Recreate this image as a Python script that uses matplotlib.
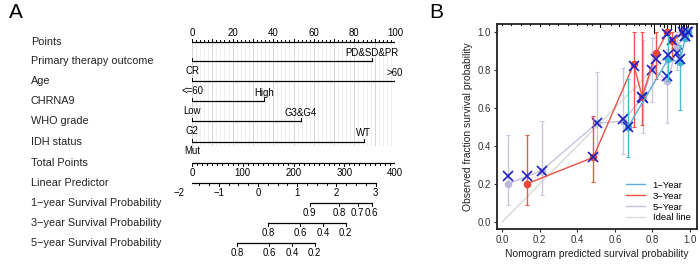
import numpy as np
import matplotlib
matplotlib.use("Agg")
import matplotlib.pyplot as plt
from matplotlib.lines import Line2D

plt.rcParams['font.family'] = ['Liberation Sans', 'DejaVu Sans']

# ---------------- Panel A data (nomogram) ----------------
row_labels = ["Points", "Primary therapy outcome", "Age", "CHRNA9", "WHO grade",
              "IDH status", "Total Points", "Linear Predictor",
              "1\u2212year Survival Probability", "3\u2212year Survival Probability",
              "5\u2212year Survival Probability"]
var_low_labels = ["CR", "<=60", "Low", "G2", "Mut"]
var_high_labels = ["PD&SD&PR", ">60", "High", "G3&G4", "WT"]
var_high_points = [88.5, 100, 35.6, 53.7, 84.7]
points_ticks = [0, 20, 40, 60, 80, 100]
total_ticks = [0, 100, 200, 300, 400]
lp_ticks = [-2, -1, 0, 1, 2, 3]
lp_at_total0 = -1.68
lp_at_total400 = 3.49
surv_times = ["1", "3", "5"]
surv_baseline = [0.9722, 0.8412, 0.6832]
surv_ticks = [[0.9, 0.8, 0.7, 0.6], [0.8, 0.6, 0.4, 0.2], [0.8, 0.6, 0.4, 0.2]]

# ---------------- Panel B data (calibration) ----------------
x1 = [0.67, 0.885, 0.945, 0.975, 0.99]
y1 = [0.50, 0.86, 0.84, 0.97, 1.0]
lo1 = [0.34, 0.74, 0.59, np.nan, np.nan]
hi1 = [0.75, 0.98, 0.93, np.nan, np.nan]
bc1 = [0.50, 0.88, 0.86, 0.98, 1.0]

x3 = [0.13, 0.485, 0.70, 0.745, 0.82, 0.88, 0.905, 0.96, 0.985]
y3 = [0.20, 0.34, 0.83, 0.66, 0.89, 1.0, 0.95, 1.0, 1.0]
lo3 = [0.09, 0.21, 0.50, 0.51, 0.75, np.nan, 0.85, np.nan, np.nan]
hi3 = [0.46, 0.56, 1.0, 1.0, 1.0, np.nan, 1.0, np.nan, np.nan]
bc3 = [0.24, 0.34, 0.82, 0.66, 0.86, 0.99, 0.96, 1.0, 1.0]

x5 = [0.03, 0.21, 0.505, 0.645, 0.75, 0.80, 0.88, 0.93, 0.975]
y5 = [0.20, 0.27, 0.52, 0.53, 0.66, 0.81, 0.74, 0.92, 0.99]
lo5 = [0.09, 0.14, 0.36, 0.36, 0.47, 0.63, 0.52, 0.80, np.nan]
hi5 = [0.46, 0.53, 0.79, 0.81, 0.96, 0.97, 0.91, 1.0, np.nan]
bc5 = [0.24, 0.27, 0.52, 0.54, 0.65, 0.80, 0.77, 0.89, 0.98]

rug_x = [0.0, 0.05, 0.10, 0.15, 0.20, 0.25, 0.30, 0.35, 0.40, 0.45, 0.48, 0.52, 0.58,
         0.62, 0.66, 0.70, 0.73, 0.76, 0.79, 0.81, 0.84, 0.86, 0.88, 0.90, 0.92,
         0.94, 0.95, 0.96, 0.97, 0.98, 0.99]
rug_h = [1, 1, 1, 1, 2, 1, 1, 1, 1, 1, 1, 3, 1, 2, 1, 1, 1, 1, 2, 8, 2, 3, 5, 4, 6,
         5, 7, 6, 5, 4, 3]

series_names = ["1\u2212Year", "3\u2212Year", "5\u2212Year", "Ideal line"]

# ---------------- Figure ----------------
W, H = 700, 267
fig = plt.figure(figsize=(W / 100, H / 100), dpi=100)

# Panel A axes: x in nomogram points (0..100), y in pixel rows
axA = fig.add_axes([192 / W, 0, 203 / W, 1])
axA.set_xlim(0, 100)
axA.set_ylim(H, 0)
axA.axis('off')

row_y = [42, 61, 81, 101, 121, 142, 163, 183, 203, 223, 243]
lab_fs = 7.8
tick_fs = 6.9
lw = 0.9

fig.text(9 / W, 1 - 13 / H, "A", fontsize=15, ha='left', va='center')
fig.text(429 / W, 1 - 13 / H, "B", fontsize=15, ha='left', va='center')

for lab, yy in zip(row_labels, row_y):
    fig.text(31 / W, 1 - yy / H, lab, fontsize=lab_fs, ha='left', va='center', color='#222222')

# grid lines
for g in np.arange(0, 100.1, 2):
    col = '#cfcfcf' if g % 10 == 0 else '#ebebeb'
    axA.plot([g, g], [row_y[0], 145], color=col, lw=0.6, zorder=0)

# Points axis
axA.plot([0, 100], [row_y[0], row_y[0]], color='k', lw=lw)
for t in np.arange(0, 100.1, 2):
    ln = 3 if t % 10 == 0 else 2
    axA.plot([t, t], [row_y[0], row_y[0] - ln], color='k', lw=0.7)
for t in points_ticks:
    axA.text(t, row_y[0] - 9, str(t), fontsize=tick_fs, ha='center', va='center')

# variables
for i, (lo_l, hi_l, hp) in enumerate(zip(var_low_labels, var_high_labels, var_high_points)):
    yy = row_y[i + 1]
    axA.plot([0, hp], [yy, yy], color='k', lw=lw)
    for xx in (0, hp):
        axA.plot([xx, xx], [yy, yy - 3], color='k', lw=0.7)
    axA.text(hp, yy - 8.5, hi_l, fontsize=tick_fs, ha='center', va='center')
    axA.text(0, yy + 9.5, lo_l, fontsize=tick_fs, ha='center', va='center')

# Total points axis (0..400 -> 0..100)
yy = row_y[6]
axA.plot([0, 100], [yy, yy], color='k', lw=lw)
for t in np.arange(0, 401, 10):
    ln = 3 if t % 100 == 0 else 2
    axA.plot([t / 4, t / 4], [yy, yy + ln], color='k', lw=0.7)
for t in total_ticks:
    axA.text(t / 4, yy + 9.5, str(t), fontsize=tick_fs, ha='center', va='center')

def lp2x(lp):
    tp = (lp - lp_at_total0) / (lp_at_total400 - lp_at_total0) * 400
    return tp / 4

# Linear predictor
yy = row_y[7]
axA.plot([lp2x(lp_ticks[0]), lp2x(lp_ticks[-1])], [yy, yy], color='k', lw=lw)
for t in np.arange(lp_ticks[0], lp_ticks[-1] + 0.01, 0.25):
    ln = 3 if abs(t - round(t)) < 1e-6 else 2
    axA.plot([lp2x(t), lp2x(t)], [yy, yy + ln], color='k', lw=0.7)
for t in lp_ticks:
    lab = str(t).replace('-', '\u2212')
    axA.text(lp2x(t), yy + 9.5, lab, fontsize=tick_fs, ha='center', va='center')

# Survival probability axes
for k, (s0, ticks) in enumerate(zip(surv_baseline, surv_ticks)):
    yy = row_y[8 + k]
    xs = [lp2x(np.log(np.log(p) / np.log(s0))) for p in ticks]
    axA.plot([xs[0], xs[-1]], [yy, yy], color='k', lw=lw)
    for xx, p in zip(xs, ticks):
        axA.plot([xx, xx], [yy, yy + 3], color='k', lw=0.7)
        axA.text(xx, yy + 9.5, f"{p:.1f}", fontsize=tick_fs, ha='center', va='center')

# ---------------- Panel B ----------------
axB = fig.add_axes([497 / W, 38 / H, 200 / W, 205 / H])
axB.set_xlim(-0.027, 1.037)
axB.set_ylim(-0.037, 1.042)
for s in axB.spines.values():
    s.set_linewidth(1.3)
    s.set_color('#222222')
ticks = [0, 0.2, 0.4, 0.6, 0.8, 1.0]
axB.set_xticks(ticks)
axB.set_yticks(ticks)
axB.set_xticklabels([f"{t:.1f}" for t in ticks], fontsize=tick_fs, color='#333333')
axB.set_yticklabels([f"{t:.1f}" for t in ticks], fontsize=tick_fs, color='#333333')
axB.tick_params(length=2.5, width=0.8, pad=2, color='#333333')
axB.set_xlabel("Nomogram predicted survival probability", fontsize=7.4, labelpad=3, color='#222222')
axB.set_ylabel("Observed fraction survival probability", fontsize=7.4, labelpad=3, color='#222222')

c1_line, c1_pt, c1_err = '#5AAED8', '#3DB5CC', '#45BCC8'
c3_line, c3_pt, c3_err = '#E5533F', '#E8473A', '#E8574A'
c5_line, c5_pt, c5_err = '#C8C1E2', '#BDB8DA', '#CBC6DF'
c_ideal = '#DCDCDC'
c_x = '#2020C8'

axB.plot([0, 1], [0, 1], color=c_ideal, lw=1.1, zorder=1)

tr = axB.get_xaxis_transform()
for rx, rh in zip(rug_x, rug_h):
    axB.plot([rx, rx], [1, 1 - rh * 1.1 / 205], color='k', lw=0.8, transform=tr, clip_on=False)

def draw_series(x, y, lo, hi, bc, cl, cp, ce, z):
    x = np.array(x); y = np.array(y); lo = np.array(lo); hi = np.array(hi)
    m = ~np.isnan(lo)
    axB.errorbar(x[m], y[m], yerr=[y[m] - lo[m], hi[m] - y[m]], fmt='none',
                 ecolor=ce, elinewidth=1.0, capsize=1.6, capthick=0.8, zorder=z)
    axB.plot(x, y, color=cl, lw=1.0, zorder=z + 0.1)
    axB.plot(x, y, 'o', color=cp, ms=5.5, mec='none', zorder=z + 0.2)
    axB.plot(x, bc, 'x', color=c_x, ms=6.5, mew=1.2, zorder=z + 0.3)

draw_series(x5, y5, lo5, hi5, bc5, c5_line, c5_pt, c5_err, 2)
draw_series(x3, y3, lo3, hi3, bc3, c3_line, c3_pt, c3_err, 3)
draw_series(x1, y1, lo1, hi1, bc1, c1_line, c1_pt, c1_err, 4)

handles = [Line2D([], [], color=c, lw=1.0) for c in (c1_line, c3_line, c5_line, c_ideal)]
axB.legend(handles, series_names, loc='lower right', frameon=False, fontsize=6.8,
           handlelength=2.0, handletextpad=0.8, labelspacing=0.2,
           borderaxespad=0.3)

fig.savefig("out.png", dpi=100)
